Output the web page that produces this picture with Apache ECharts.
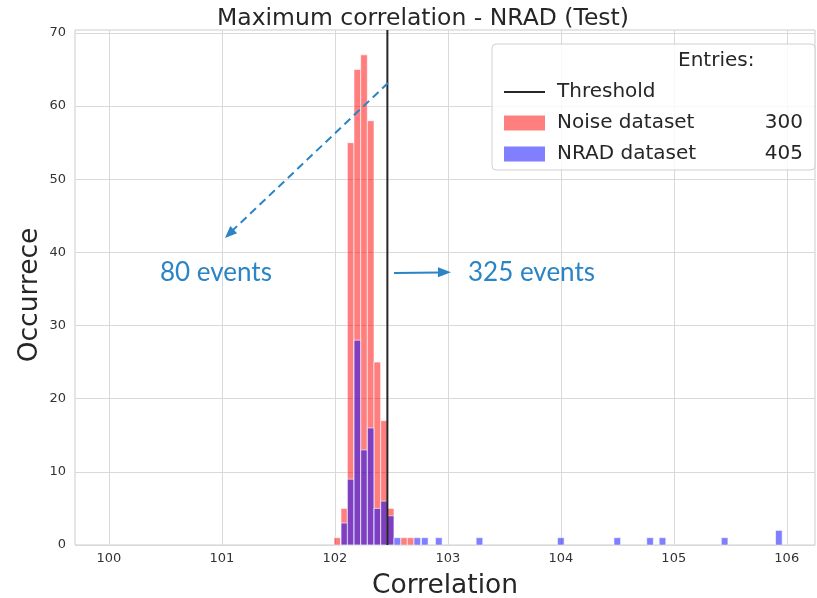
<!DOCTYPE html>
<html>
<head>
<meta charset="utf-8">
<script src="https://cdn.jsdelivr.net/npm/echarts@6/dist/echarts.min.js"></script>
<style>
html,body{margin:0;padding:0;background:#fff;}
#main{width:817px;height:598px;}
</style>
</head>
<body>
<div id="main"></div>
<script>
// ---- data ----
const binCenters = [102.022, 102.084, 102.140, 102.199, 102.258, 102.317, 102.376, 102.435, 102.494, 102.553, 102.612, 102.671, 102.730, 102.796, 102.92, 103.28, 104.00, 104.50, 104.79, 104.90, 105.45, 105.93];
const noiseCounts = [1, 5, 55, 65, 67, 58, 25, 17, 5, 0, 1, 1, 0, 0, 0, 0, 0, 0, 0, 0, 0, 0];
const nradCounts  = [0, 3, 9, 28, 13, 16, 5, 6, 4, 1, 0, 0, 1, 1, 1, 1, 1, 1, 1, 1, 1, 2];
const binWidth = 0.059;
const thresholdValue = 102.465;
const xTicks = [100, 101, 102, 103, 104, 105, 106];
const yTicks = [0, 10, 20, 30, 40, 50, 60, 70];
const entries = { 'Noise dataset': 300, 'NRAD dataset': 405 };
const annotations = ['80 events', '325 events'];

function toData(counts) {
  const out = [];
  for (let i = 0; i < binCenters.length; i++) if (counts[i] > 0) out.push([binCenters[i], counts[i]]);
  return out;
}
function histItem(fill) {
  return function (params, api) {
    const x = api.value(0), y = api.value(1);
    const p0 = api.coord([x - binWidth / 2, y]);
    const p1 = api.coord([x + binWidth / 2, 0]);
    return {
      type: 'rect',
      shape: { x: p0[0], y: p0[1], width: p1[0] - p0[0], height: p1[1] - p0[1] },
      style: { fill: fill, stroke: 'rgba(255,255,255,0.6)', lineWidth: 1 }
    };
  };
}

const chart = echarts.init(document.getElementById('main'), null, { renderer: 'canvas' });
const font = 'DejaVu Sans';
const annColor = '#2a84c6';

chart.setOption({
  backgroundColor: '#ffffff',
  animation: false,
  title: {
    text: 'Maximum correlation - NRAD (Test)',
    left: 212, top: 2,
    textStyle: { fontFamily: font, fontSize: 23.5, fontWeight: 'normal', color: '#262626' }
  },
  grid: { left: 75, right: 2, top: 30, bottom: 53, show: true, borderColor: '#cccccc', borderWidth: 1, containLabel: false, outerBoundsMode: 'none' },
  xAxis: {
    type: 'value', min: 99.7, max: 106.25,
    name: 'Correlation', nameLocation: 'middle', nameGap: 28, nameMoveOverlap: false,
    nameTextStyle: { fontFamily: font, fontSize: 26.5, color: '#262626' },
    axisLine: { show: false },
    axisTick: { show: false, customValues: xTicks },
    axisLabel: { customValues: xTicks, fontFamily: font, fontSize: 13, color: '#333', margin: 7 },
    splitLine: { show: true, lineStyle: { color: '#d9d9d9', width: 1 } }
  },
  yAxis: {
    type: 'value', min: 0, max: 70.4,
    name: 'Occurrece', nameLocation: 'middle', nameGap: 31, nameMoveOverlap: false,
    nameTextStyle: { fontFamily: font, fontSize: 26.5, color: '#262626', padding: [0, 15, 0, 0] },
    axisLine: { show: false },
    axisTick: { show: false, customValues: yTicks },
    axisLabel: { customValues: yTicks, fontFamily: font, fontSize: 13, color: '#333', margin: 9 },
    splitLine: { show: true, lineStyle: { color: '#d9d9d9', width: 1 } }
  },
  legend: {
    orient: 'vertical', left: 499, top: 77, z: 20,
    itemWidth: 41, itemHeight: 15, itemGap: 11,
    data: [
      { name: 'Threshold', icon: 'path://M0,0 L41,0 L41,2 L0,2 Z' },
      { name: 'Noise dataset', icon: 'rect' },
      { name: 'NRAD dataset', icon: 'rect' }
    ],
    selectedMode: false,
    formatter: function (name) { return '{n|' + name + '}{c|' + (entries[name] !== undefined ? entries[name] : '') + '}'; },
    textStyle: {
      fontFamily: font, fontSize: 20, color: '#262626', padding: [0, 0, 0, 7],
      rich: {
        n: { fontFamily: font, fontSize: 20, color: '#262626', width: 180, lineHeight: 22 },
        c: { fontFamily: font, fontSize: 20, color: '#262626', width: 66, align: 'right', lineHeight: 22 }
      }
    }
  },
  graphic: [
    { type: 'rect', z: 10, shape: { x: 492, y: 44, width: 323, height: 126, r: 4 },
      style: { fill: 'rgba(255,255,255,0.82)', stroke: '#d0d0d0', lineWidth: 1 } },
    { type: 'text', z: 21, x: 678, y: 61,
      style: { text: 'Entries:', fontFamily: font, fontSize: 20, fill: '#262626', verticalAlign: 'middle' } },
    // dashed arrow
    { type: 'line', z: 30, shape: { x1: 388, y1: 83, x2: 233, y2: 230 },
      style: { stroke: annColor, lineWidth: 2, lineDash: [8, 5] } },
    { type: 'polygon', z: 30, shape: { points: [[225, 238], [237.1, 233.3], [230.3, 226.1]] },
      style: { fill: annColor } },
    // solid arrow
    { type: 'line', z: 30, shape: { x1: 394, y1: 273, x2: 440, y2: 272.5 },
      style: { stroke: annColor, lineWidth: 2 } },
    { type: 'polygon', z: 30, shape: { points: [[451, 272.3], [438, 267.3], [438, 277.3]] },
      style: { fill: annColor } },
    { type: 'text', z: 30, x: 160, y: 273,
      style: { text: annotations[0], fontFamily: 'Lato', fontSize: 26, fill: annColor, verticalAlign: 'middle' } },
    { type: 'text', z: 30, x: 468, y: 273,
      style: { text: annotations[1], fontFamily: 'Lato', fontSize: 26, fill: annColor, verticalAlign: 'middle' } }
  ],
  series: [
    {
      name: 'Noise dataset', type: 'custom', z: 2,
      itemStyle: { color: 'rgba(255,0,0,0.5)' },
      renderItem: histItem('rgba(255,0,0,0.5)'),
      encode: { x: 0, y: 1 },
      data: toData(noiseCounts)
    },
    {
      name: 'NRAD dataset', type: 'custom', z: 3,
      itemStyle: { color: 'rgba(0,0,255,0.5)' },
      renderItem: histItem('rgba(0,0,255,0.5)'),
      encode: { x: 0, y: 1 },
      data: toData(nradCounts)
    },
    {
      name: 'Threshold', type: 'line', z: 4, symbol: 'none',
      lineStyle: { color: '#262626', width: 2 },
      itemStyle: { color: '#262626' },
      data: [[thresholdValue, 0], [thresholdValue, 70.4]]
    }
  ]
});
</script>
</body>
</html>
